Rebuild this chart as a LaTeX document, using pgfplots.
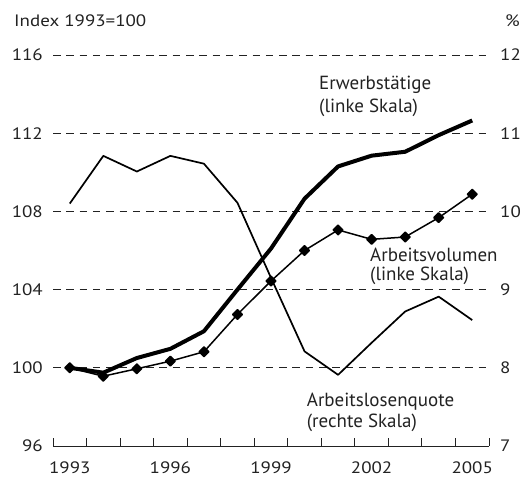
\documentclass[border=0pt]{standalone}
\usepackage{pgfplots}
\pgfplotsset{compat=1.18}
\usepackage{fontspec}
\setmainfont{PT Sans}
\newfontfamily\widefont[FakeStretch=1.15]{PT Sans}
\definecolor{txt}{HTML}{222222}
\newcommand{\smallfnt}{\widefont\fontsize{16.5bp}{20bp}\selectfont}
\newcommand{\bigfnt}{\fontsize{19bp}{22bp}\selectfont}
\begin{document}
\begin{tikzpicture}[x=1bp,y=1bp]
\useasboundingbox (0,0) rectangle (526,481);
\begin{axis}[
  at={(53bp,35bp)}, anchor=south west,
  scale only axis, width=436bp, height=391bp,
  xmin=1992.5, xmax=2005.5, ymin=96, ymax=116,
  axis x line*=bottom, axis y line*=left,
  y axis line style={draw=none},
  x axis line style={line width=0.9bp, -, draw=txt},
  xtick={1993,1996,...,2005},
  minor xtick={1992.5,1993.5,...,2005.5},
  major tick length=0pt, minor tick length=8bp,
  xtick align=inside,
  minor tick style={line width=0.9bp, draw=txt},
  ytick={96,100,...,116},
  ymajorgrids,
  grid style={dash pattern=on 7.5bp off 5.8bp, line width=0.9bp, draw=txt},
  tick label style={font=\smallfnt},
  xticklabel style={anchor=north, inner sep=0pt, yshift=-16bp, text=txt},
  yticklabel style={anchor=east, inner sep=0pt, xshift=-10bp, text=txt},
  /pgf/number format/assume math mode=true,
  /pgf/number format/1000 sep={},
  clip=false,
]
\addplot[line width=4bp, black, line join=round] coordinates {
 (1993,100) (1994,99.75) (1995,100.5) (1996,100.97) (1997,101.87) (1998,104.0)
 (1999,106.1) (2000,108.65) (2001,110.3) (2002,110.85) (2003,111.05) (2004,111.9) (2005,112.65)};
\addplot[line width=1.5bp, black, line join=round, mark=square*, mark size=3.4bp, mark options={rotate=45}] coordinates {
 (1993,100) (1994,99.57) (1995,99.95) (1996,100.34) (1997,100.82) (1998,102.73)
 (1999,104.44) (2000,106.0) (2001,107.05) (2002,106.57) (2003,106.69) (2004,107.68) (2005,108.88)};
\end{axis}
\begin{axis}[
  at={(53bp,35bp)}, anchor=south west,
  scale only axis, width=436bp, height=391bp,
  xmin=1992.5, xmax=2005.5, ymin=7, ymax=12,
  axis x line=none, axis y line*=right,
  y axis line style={draw=none},
  ytick={7,8,...,12},
  major tick length=0pt,
  tick label style={font=\smallfnt},
  yticklabel style={anchor=west, inner sep=0pt, xshift=11bp, text=txt},
  /pgf/number format/assume math mode=true,
  clip=false,
]
\addplot[line width=1.7bp, black, line join=round] coordinates {
 (1993,10.10) (1994,10.71) (1995,10.51) (1996,10.71) (1997,10.61) (1998,10.11)
 (1999,9.15) (2000,8.21) (2001,7.91) (2002,8.32) (2003,8.72) (2004,8.91) (2005,8.61)};
\end{axis}
\begin{scope}[every node/.style={inner sep=0pt, text=txt}]
\node[anchor=west, font=\smallfnt] at (14,460) {Index 1993=100};
\node[anchor=east, font=\smallfnt] at (520,460) {\%};
\node[anchor=base west, font=\bigfnt] at (319,391) {Erwerbstätige};
\node[anchor=base west, font=\bigfnt] at (319,368) {(linke Skala)};
\node[anchor=base west, font=\bigfnt] at (370,219.5) {Arbeitsvolumen};
\node[anchor=base west, font=\bigfnt] at (370,200) {(linke Skala)};
\node[anchor=base west, font=\bigfnt] at (306.7,74.3) {Arbeitslosenquote};
\node[anchor=base west, font=\bigfnt] at (306.7,53) {(rechte Skala)};
\end{scope}
\end{tikzpicture}
\end{document}
